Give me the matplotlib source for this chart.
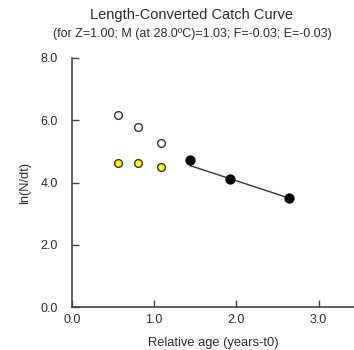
import matplotlib
matplotlib.use("Agg")
import matplotlib.pyplot as plt

plt.rcParams["font.family"] = ["Liberation Sans", "DejaVu Sans"]

# points excluded from the regression (open), fitted (black), corrected (yellow)
open_x = [0.56, 0.80, 1.08]
open_y = [6.17, 5.78, 5.28]
yellow_x = [0.56, 0.80, 1.08]
yellow_y = [4.62, 4.62, 4.49]
used_x = [1.44, 1.92, 2.64]
used_y = [4.73, 4.11, 3.50]
line_x = [1.44, 2.64]
line_y = [4.54, 3.50]

x_ticks = [0.0, 1.0, 2.0, 3.0]
y_ticks = [0.0, 2.0, 4.0, 6.0, 8.0]

W, H = 354, 350
fig = plt.figure(figsize=(W / 100, H / 100), dpi=100)
ax = fig.add_axes([72 / W, 1 - 307 / H, (W - 72) / W, (307 - 58) / H])

txt = "#2b2b2b"
ax.plot(line_x, line_y, color="#333333", lw=1.0, zorder=2)
ax.plot(open_x, open_y, "o", ms=5.6, mfc="white", mec="#333333", mew=1.0, zorder=3)
ax.plot(yellow_x, yellow_y, "o", ms=5.6, mfc="#ffff00", mec="#333333", mew=1.0, zorder=3)
ax.plot(used_x, used_y, "o", ms=6.4, mfc="black", mec="black", zorder=3)

ax.set_xlim(0, 3.43)
ax.set_ylim(0, 8)
ax.set_xticks(x_ticks)
ax.set_yticks(y_ticks)
ax.set_xticklabels([f"{v:.1f}" for v in x_ticks])
ax.set_yticklabels([f"{v:.1f}" for v in y_ticks])
ax.tick_params(direction="in", length=5, width=1, color="#444444",
               labelsize=9, labelcolor=txt, pad=5)
ax.tick_params(axis="y", pad=10)
for s in ["top", "right"]:
    ax.spines[s].set_visible(False)
for s in ["left", "bottom"]:
    ax.spines[s].set_color("#444444")
    ax.spines[s].set_linewidth(1.2)

ax.set_xlabel("Relative age (years-t0)", fontsize=9.3, color=txt, labelpad=8)
ax.set_ylabel("ln(N/dt)", fontsize=9.3, color=txt, labelpad=7)

fig.text(192 / W, 1 - 15 / H, "Length-Converted Catch Curve",
         ha="center", va="center", fontsize=10.5, color=txt)
fig.text(192 / W, 1 - 34 / H, "(for Z=1.00; M (at 28.0\u00baC)=1.03; F=-0.03; E=-0.03)",
         ha="center", va="center", fontsize=9, color=txt)

fig.savefig("out.png", dpi=100)
